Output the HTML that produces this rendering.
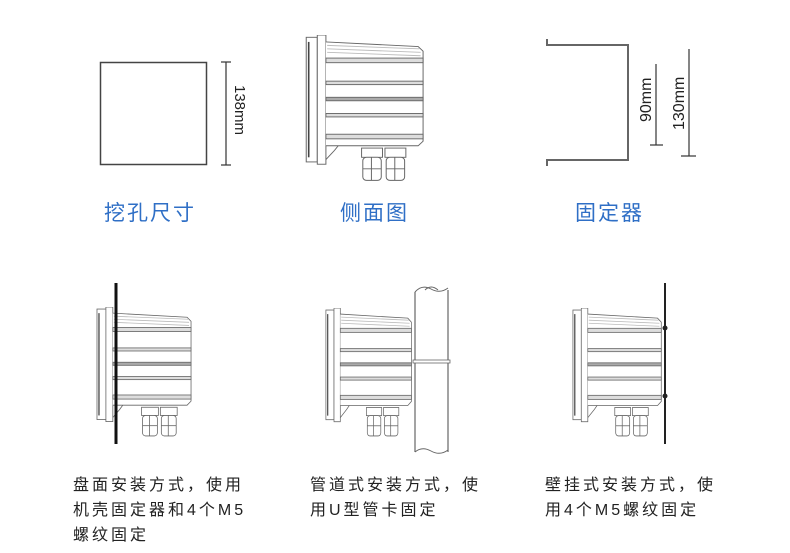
<!DOCTYPE html>
<html><head><meta charset="utf-8"><style>
html,body{margin:0;padding:0;background:#fff;}
body{width:790px;height:553px;position:relative;overflow:hidden;font-family:"Liberation Sans","Noto Sans CJK SC",sans-serif;}
.lbl{position:absolute;color:#2f6fc6;font-size:21px;letter-spacing:2px;top:197px;}
.txt{position:absolute;color:#222;font-size:16px;letter-spacing:3px;line-height:25px;}
</style></head><body>
<svg width="790" height="553" style="position:absolute;left:0;top:0">
<defs>
<symbol id="dev" viewBox="0 0 100 130" preserveAspectRatio="none">
 <g fill="none" stroke="#666" stroke-width="0.8">
  <rect x="1" y="2" width="9" height="108" fill="#fff"/>
  <line x1="3" y1="6" x2="3" y2="106" stroke="#444" stroke-width="1.3"/>
  <rect x="10" y="0" width="7" height="112" fill="#fff"/>
  <path d="M17 6 L92 10 L96 14 L96 92 L92 96 L17 96" fill="#fff"/>
  <line x1="18" y1="9" x2="93" y2="12" stroke="#bbb"/>
  <line x1="18" y1="12" x2="94" y2="15" stroke="#bbb"/>
  <line x1="18" y1="15" x2="94" y2="18" stroke="#bbb"/>
  <rect x="17" y="20" width="79" height="4" fill="#ddd"/>
  <rect x="17" y="40" width="79" height="3" fill="#ddd"/>
  <rect x="17" y="54" width="79" height="3" fill="#aaa"/>
  <rect x="17" y="68" width="79" height="3" fill="#ddd"/>
  <rect x="17" y="86" width="79" height="4" fill="#ddd"/>
  <path d="M17 108 L24 100 L27 96" />
  <rect x="46" y="98" width="17" height="8" fill="#fff"/>
  <rect x="65" y="98" width="17" height="8" fill="#fff"/>
  <rect x="47" y="106" width="15" height="20" rx="3" fill="#fff"/>
  <rect x="66" y="106" width="15" height="20" rx="3" fill="#fff"/>
  <line x1="54" y1="106" x2="54" y2="126"/><line x1="73" y1="106" x2="73" y2="126"/>
  <line x1="47" y1="116" x2="62" y2="116"/><line x1="66" y1="116" x2="81" y2="116"/>
 </g>
</symbol>
</defs>
<rect x="100.5" y="62.5" width="106" height="102" fill="none" stroke="#444" stroke-width="1.5"/>
<g stroke="#333" stroke-width="1.2">
<line x1="226" y1="62" x2="226" y2="165"/><line x1="221" y1="62" x2="231" y2="62"/><line x1="221" y1="165" x2="231" y2="165"/>
</g>
<text transform="translate(235,85) rotate(90)" font-size="15" fill="#222" font-family="Liberation Sans,sans-serif">138mm</text>
<use href="#dev" x="305" y="35" width="123" height="150"/>
<path d="M547 39 L547 45 L628 45 L628 160 L547 160 L547 166" fill="none" stroke="#666" stroke-width="2"/>
<g stroke="#333" stroke-width="1.2">
<line x1="656" y1="64" x2="656" y2="145"/><line x1="650" y1="145" x2="663" y2="145"/>
<line x1="689" y1="49" x2="689" y2="156"/><line x1="681" y1="156" x2="696" y2="156"/>
</g>
<text transform="translate(651,122) rotate(-90)" font-size="16" fill="#222" font-family="Liberation Sans,sans-serif">90mm</text>
<text transform="translate(684,130) rotate(-90)" font-size="16" fill="#222" font-family="Liberation Sans,sans-serif">130mm</text>
<use href="#dev" x="96" y="307" width="99" height="133"/>
<line x1="116" y1="283" x2="116" y2="444" stroke="#111" stroke-width="3"/>
<path d="M415 292 L415 452 M448 290 L448 452" stroke="#666" stroke-width="1.2" fill="none"/>
<path d="M415 292 Q422 284 431 289 Q440 294 448 288 M425 290 Q431 284 438 290" fill="none" stroke="#666"/>
<path d="M415 452 Q422 446 431 451 Q440 456 448 450" fill="none" stroke="#666"/>
<use href="#dev" x="325" y="308" width="90" height="132"/>
<rect x="413" y="360" width="37" height="3" fill="#fff" stroke="#666" stroke-width="0.8"/>
<use href="#dev" x="572" y="308" width="93" height="132"/>
<line x1="665" y1="283" x2="665" y2="444" stroke="#222" stroke-width="2"/>
<circle cx="665" cy="328" r="2.5" fill="#222"/><circle cx="665" cy="396" r="2.5" fill="#222"/>
</svg>
<div class="lbl" style="left:104px">挖孔尺寸</div>
<div class="lbl" style="left:340px">侧面图</div>
<div class="lbl" style="left:575px">固定器</div>
<div class="txt" style="left:73px;top:473px">盘面安装方式，使用<br>机壳固定器和4个M5<br>螺纹固定</div>
<div class="txt" style="left:310px;top:473px">管道式安装方式，使<br>用U型管卡固定</div>
<div class="txt" style="left:545px;top:473px">壁挂式安装方式，使<br>用4个M5螺纹固定</div>
</body></html>
